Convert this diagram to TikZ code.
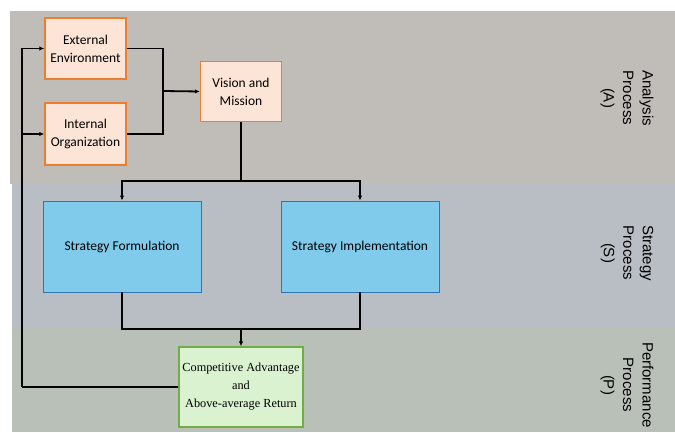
\documentclass[tikz,border=0pt]{standalone}
\usepackage{fontspec}
\setmainfont{Carlito}
\newfontfamily\serifb{Liberation Serif}
\newfontfamily\sansb{Liberation Sans}
\usetikzlibrary{arrows.meta}
\definecolor{bandA}{RGB}{192,188,184}
\definecolor{bandS}{RGB}{184,190,196}
\definecolor{bandP}{RGB}{185,192,184}
\definecolor{peach}{RGB}{252,228,214}
\definecolor{orangeb}{RGB}{237,125,49}
\definecolor{skyb}{RGB}{128,202,235}
\definecolor{blueb}{RGB}{46,117,182}
\definecolor{lgreen}{RGB}{218,242,208}
\definecolor{greenb}{RGB}{112,173,71}
\tikzset{
  abox/.style={draw=orangeb, fill=peach, line width=1.4pt, minimum width=81pt, minimum height=61pt, align=center, inner sep=2pt, font=\fontsize{13.5}{18}\selectfont},
  sbox/.style={draw=blueb, fill=skyb, line width=0.9pt, minimum width=158pt, minimum height=91pt, align=center, font=\fontsize{13.5}{18}\selectfont},
  pbox/.style={draw=greenb, fill=lgreen, line width=1.3pt, minimum width=124pt, minimum height=80pt, align=center, font=\serifb\fontsize{12.3}{18}\selectfont},
  conn/.style={line width=1.8pt, black},
  arr/.style={conn, -{Latex[length=5pt,width=4.5pt]}},
  side/.style={rotate=-90, align=center, font=\sansb\fontsize{15}{19.5}\selectfont}
}
\begin{document}
\begin{tikzpicture}[x=1pt,y=-1pt]
\useasboundingbox (0,0) rectangle (675,433);
\fill[white] (0,0) rectangle (675,433);
\fill[bandA] (10,11) rectangle (675,184);
\fill[bandS] (12,184) rectangle (675,328);
\fill[bandP] (12,328) rectangle (675,432);

\node[abox] (ext) at (85.5,48.5) {External\\Environment};
\node[abox, minimum height=62pt] (int) at (85.5,134) {Internal\\Organization};
\node[abox, minimum height=60pt] (vis) at (241,91.5) {Vision and\\Mission};
\node[sbox] (form) at (122,246.5) {Strategy Formulation};
\node[sbox] (impl) at (360,246.5) {Strategy Implementation};
\node[pbox] (comp) at (241,387) {Competitive Advantage\\and\\Above-average Return};

\node[side] (la) at (627,98) {Analysis\\Process\\(A)};
\node[side] (ls) at (627,253) {Strategy\\Process\\(S)};
\node[side] (lp) at (627,385) {Performance\\Process\\(P)};

\coordinate (j) at (163,91);
\coordinate (s) at (241,181);
\coordinate (m) at (241,329);
\coordinate (fb) at (22,387);

\draw[conn] (ext.east) -| (j) |- (int.east);
\draw[arr] (j) -- (vis.west);
\draw[conn] (vis.south) -- (s);
\draw[arr] (s) -| (form.north);
\draw[arr] (s) -| (impl.north);
\draw[conn] (form.south) |- (m) -| (impl.south);
\draw[arr] (m) -- (comp.north);
\draw[conn] (comp.west) -- (fb);
\draw[arr] (fb) |- (ext.west);
\draw[arr] (fb) |- (int.west);
\end{tikzpicture}
\end{document}
